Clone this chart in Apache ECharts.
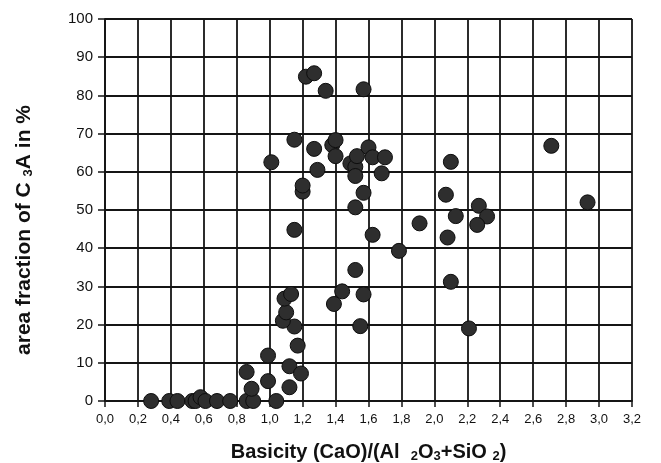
<!DOCTYPE html>
<html>
<head>
<meta charset="utf-8">
<script src="https://cdn.jsdelivr.net/npm/echarts@6/dist/echarts.min.js"></script>
<style>
  html, body { margin: 0; padding: 0; background: #fff; }
  #chart { width: 661px; height: 463px; }
</style>
</head>
<body>
<div id="chart"></div>
<script>
// basicity values (x)
var basicity = [
  0.28, 0.39, 0.44, 0.53, 0.55, 0.58, 0.61, 0.68, 0.76, 0.86, 0.90, 1.04,
  0.86, 0.89, 0.99, 0.99, 1.12, 1.12, 1.19, 1.17, 1.15, 1.08, 1.10, 1.09, 1.13,
  1.39, 1.44, 1.57, 1.52, 1.55, 1.15, 1.625, 1.785, 1.91,
  1.20, 1.20, 1.29, 1.27, 1.01, 1.15, 1.38, 1.40, 1.40, 1.49, 1.52, 1.53, 1.52,
  1.60, 1.625, 1.70, 1.68, 1.57, 1.52,
  1.22, 1.27, 1.34, 1.57,
  2.71, 2.10, 2.07, 2.93, 2.27, 2.13, 2.32, 2.26, 2.08, 2.10, 2.21
];
// C3A area fraction in % (y)
var c3a = [
  0, 0, 0, 0, 0, 1.0, 0, 0, 0, 0, 0, 0,
  7.6, 3.2, 5.2, 11.9, 3.6, 9.1, 7.2, 14.5, 19.5, 21.0, 23.2, 26.8, 28.0,
  25.4, 28.7, 27.9, 34.3, 19.6, 44.8, 43.5, 39.3, 46.5,
  54.8, 56.4, 60.5, 66.0, 62.5, 68.4, 67.0, 68.3, 64.1, 62.2, 61.3, 64.1, 58.9,
  66.4, 63.8, 63.8, 59.6, 54.5, 50.7,
  84.9, 85.8, 81.2, 81.6,
  66.8, 62.6, 54.0, 52.0, 51.1, 48.4, 48.3, 46.1, 42.8, 31.2, 19.0
];
var xTicks = ['0,0','0,2','0,4','0,6','0,8','1,0','1,2','1,4','1,6','1,8','2,0','2,2','2,4','2,6','2,8','3,0','3,2'];
var yTicks = [0, 10, 20, 30, 40, 50, 60, 70, 80, 90, 100];

var chart = echarts.init(document.getElementById('chart'));

var points = basicity.map(function (x, i) { return [x, c3a[i]]; });

var font = 'Liberation Sans, Arial, sans-serif';
var gridLine = { show: true, lineStyle: { color: '#151515', width: 1.8 } };
var nameRich = {
  sub: { fontSize: 13, fontWeight: 'bold', fontFamily: font, color: '#111', padding: [8, 0, 0, 0] }
};

var option = {
  animation: false,
  backgroundColor: '#fff',
  // fixed plot box, labels may sit near the edge
  grid: { left: 105, right: 29, top: 19, bottom: 62, outerBoundsMode: 'none' },
  xAxis: {
    type: 'value',
    min: 0,
    max: 3.2,
    interval: 0.2,
    name: 'Basicity (CaO)/(Al  {sub|2}O{sub|3}+SiO {sub|2})',
    nameLocation: 'middle',
    nameGap: 41,
    nameTextStyle: { fontSize: 20, fontWeight: 'bold', fontFamily: font, color: '#111', rich: nameRich },
    axisLine: { lineStyle: { color: '#151515', width: 1.8 } },
    axisTick: { show: true, length: 6, inside: false, lineStyle: { color: '#151515', width: 1.5 } },
    axisLabel: {
      fontSize: 13, fontFamily: font, color: '#111', margin: 12,
      formatter: function (v) { return xTicks[Math.round(v / 0.2)]; }
    },
    splitLine: gridLine
  },
  yAxis: {
    type: 'value',
    min: 0,
    max: 100,
    interval: 10,
    name: 'area fraction of C {sub|3}A in %',
    nameLocation: 'middle',
    nameRotate: 90,
    nameGap: 70,
    nameTextStyle: {
      fontSize: 21, fontWeight: 'bold', fontFamily: font, color: '#111',
      padding: [0, 40, 0, 0], rich: nameRich
    },
    axisLine: { show: true, lineStyle: { color: '#151515', width: 1.8 } },
    axisTick: { show: true, length: 7, lineStyle: { color: '#151515', width: 1.5 } },
    axisLabel: {
      fontSize: 15, fontFamily: font, color: '#111', margin: 12,
      formatter: function (v) { return yTicks.indexOf(v) >= 0 ? String(v) : ''; }
    },
    splitLine: gridLine
  },
  series: [{
    type: 'scatter',
    data: points,
    symbol: 'circle',
    symbolSize: 15,
    itemStyle: { color: '#2e2e2e', borderColor: '#0d0d0d', borderWidth: 1, opacity: 1 }
  }]
};

chart.setOption(option);
</script>
</body>
</html>
